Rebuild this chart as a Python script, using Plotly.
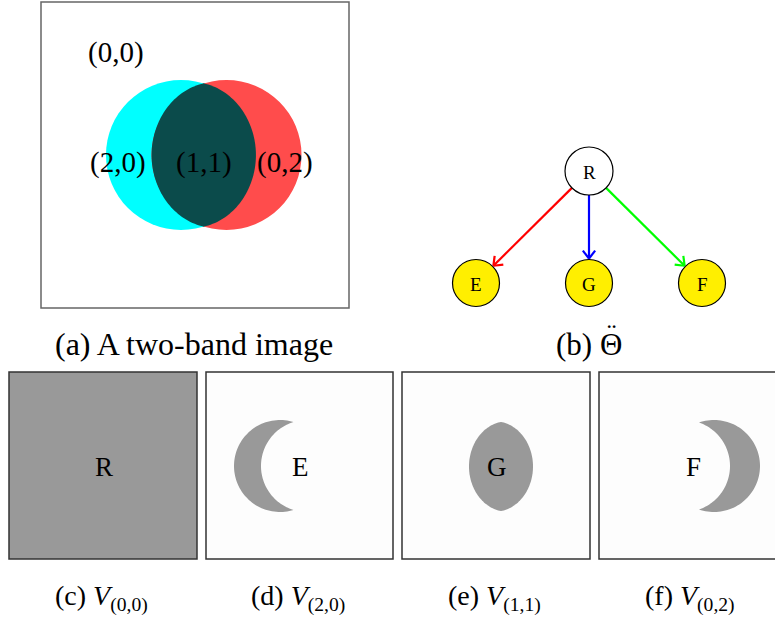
import numpy as np
import plotly.graph_objects as go

# ---------------- data ----------------
band_labels = ["(0,0)", "(2,0)", "(1,1)", "(0,2)"]
node_names = ["R", "E", "G", "F"]
tree_edges = [("R", "E"), ("R", "G"), ("R", "F")]
top_captions = ["(a) A two-band image", "(b) \u0398"]
theta_accent = "\u00A8"
bottom_tags = ["(c)", "(d)", "(e)", "(f)"]
bottom_subs = ["(0,0)", "(2,0)", "(1,1)", "(0,2)"]
bottom_letters = ["R", "E", "G", "F"]

# ---------------- styles / layout ----------------
W, H = 775, 618
FONT = "Liberation Serif"
CYAN, RED, TEAL, GRAY, YELLOW = "#00FFFF", "#FF4C4C", "#0B4B4B", "#999999", "#FFEF00"
EDGE_COLORS = {"E": "#FF0000", "G": "#0000FF", "F": "#00FF00"}

fig = go.Figure()


def arc(cx, cy, r, a0, a1, n=80):
    t = np.linspace(a0, a1, n)
    return list(zip(cx + r * np.cos(t), cy + r * np.sin(t)))


def path_from(pts):
    return "M " + " L ".join(f"{x:.2f},{y:.2f}" for x, y in pts) + " Z"


def two_circle_parts(cx1, cx2, cy, r):
    d = cx2 - cx1
    h = np.sqrt(r * r - (d / 2) ** 2)
    phi = np.arctan2(h, d / 2)
    lens = arc(cx1, cy, r, -phi, phi) + arc(cx2, cy, r, np.pi - phi, np.pi + phi)
    left = arc(cx1, cy, r, phi, 2 * np.pi - phi) + arc(cx2, cy, r, np.pi + phi, np.pi - phi)
    right = arc(cx2, cy, r, phi - np.pi, np.pi - phi) + arc(cx1, cy, r, phi, -phi)
    return lens, left, right


def soften(pts, cx, cy, a, b, w):
    out = []
    for x, y in pts:
        ang = np.arctan2((y - cy) / b, (x - cx) / a)
        ex, ey = cx + a * np.cos(ang), cy + b * np.sin(ang)
        out.append(((1 - w) * x + w * ex, (1 - w) * y + w * ey))
    return out


def shape_path(pts, color):
    fig.add_shape(type="path", xref="x", yref="y", path=path_from(pts),
                  fillcolor=color, line=dict(width=0), layer="above")


def rect(x0, y0, x1, y1, fill, line_color, lw=1.5):
    fig.add_shape(type="rect", xref="x", yref="y", x0=x0, y0=y0, x1=x1, y1=y1,
                  fillcolor=fill, line=dict(color=line_color, width=lw), layer="above")


def text(x, y, s, size, color="black"):
    fig.add_annotation(x=x, y=y, xref="x", yref="y", text=s, showarrow=False,
                       xanchor="center", yanchor="middle",
                       font=dict(family=FONT, size=size, color=color))


# ---- panel (a) ----
rect(41, 2, 349, 308, "white", "#666666", 1.5)
ca, cb, cyy, rr = 181, 226.5, 155, 75
fig.add_shape(type="circle", xref="x", yref="y", x0=ca - rr, x1=ca + rr, y0=cyy - rr, y1=cyy + rr,
              fillcolor=CYAN, line=dict(width=0), layer="above")
fig.add_shape(type="circle", xref="x", yref="y", x0=cb - rr, x1=cb + rr, y0=cyy - rr, y1=cyy + rr,
              fillcolor=RED, line=dict(width=0), layer="above")
lens_a, _, _ = two_circle_parts(ca, cb, cyy, rr)
shape_path(soften(lens_a, (ca + cb) / 2, cyy, 52, 72, 0.3), TEAL)
label_pos = [(116, 52), (118, 162), (204, 162), (285, 162)]
for (x, y), s in zip(label_pos, band_labels):
    text(x, y, s, 29)

# ---- panel (b) tree ----
node_pos = {"R": (589, 171), "E": (476, 283), "G": (589, 283), "F": (702, 283)}
node_r = {"R": 24, "E": 23.5, "G": 23.5, "F": 23.5}
for a, b in tree_edges:
    x0, y0 = node_pos[a]
    x1, y1 = node_pos[b]
    v = np.array([x1 - x0, y1 - y0], float)
    u = v / np.linalg.norm(v)
    p0 = np.array([x0, y0]) + u * node_r[a]
    p1 = np.array([x1, y1]) - u * (node_r[b] + 1)
    col = EDGE_COLORS[b]
    fig.add_trace(go.Scatter(x=[p0[0], p1[0]], y=[p0[1], p1[1]], mode="lines",
                             line=dict(color=col, width=2.2), hoverinfo="skip"))
    L, ang = 10, np.deg2rad(38)
    bx, byy = [], []
    for sgn in (1, -1):
        c, s_ = np.cos(sgn * ang), np.sin(sgn * ang)
        rot = np.array([[c, -s_], [s_, c]]) @ (-u)
        bx += [p1[0] + L * rot[0], p1[0], None]
        byy += [p1[1] + L * rot[1], p1[1], None]
    fig.add_trace(go.Scatter(x=bx, y=byy, mode="lines", line=dict(color=col, width=2.2),
                             hoverinfo="skip"))
for n in node_names:
    x, y = node_pos[n]
    r = node_r[n]
    fig.add_shape(type="circle", xref="x", yref="y", x0=x - r, x1=x + r, y0=y - r, y1=y + r,
                  fillcolor="white" if n == "R" else YELLOW, line=dict(color="black", width=1.2),
                  layer="above")
    text(x, y + 1, n, 19)

# ---- top captions ----
text(194, 344, top_captions[0], 32)
text(589, 344, top_captions[1], 31)
text(611, 333, theta_accent, 28)

# ---- bottom panels ----
boxes = [(9, 197), (206, 393), (402, 590), (599, 787)]
by0, by1 = 372, 559
rect(boxes[0][0], by0, boxes[0][1], by1, GRAY, "#333333", 1.5)
for bx0, bx1 in boxes[1:]:
    rect(bx0, by0, bx1, by1, "#FDFDFD", "#333333", 1.5)
_, left_d, _ = two_circle_parts(280, 307, 466, 46)
shape_path(left_d, GRAY)
lens_e, _, _ = two_circle_parts(486, 516, 466.5, 47)
shape_path(soften(lens_e, 501, 466.5, 32, 44.5, 0.45), GRAY)
_, _, right_f = two_circle_parts(684, 714, 466, 46)
shape_path(right_f, GRAY)

letter_x = [104, 300, 497, 693]
for x, s in zip(letter_x, bottom_letters):
    text(x, 467, s, 27)

cap_x = [101, 298, 494, 690]
for x, tag, sub in zip(cap_x, bottom_tags, bottom_subs):
    text(x, 598, f"{tag} <i>V</i><sub>{sub}</sub>", 28)

fig.update_layout(
    width=W, height=H, margin=dict(l=0, r=0, t=0, b=0),
    paper_bgcolor="white", plot_bgcolor="white", showlegend=False,
    xaxis=dict(range=[0, W], visible=False, fixedrange=True),
    yaxis=dict(range=[H, 0], visible=False, fixedrange=True),
)
fig.write_html("out.html", config={"displayModeBar": False},
               post_script="document.body.style.margin='0px';")
